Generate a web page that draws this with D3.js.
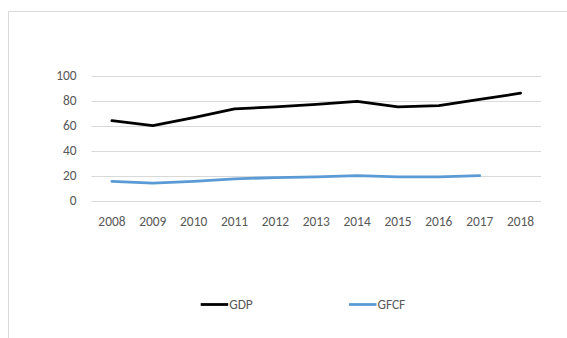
<!DOCTYPE html>
<html>
<head>
<meta charset="utf-8">
<script src="https://cdn.jsdelivr.net/npm/d3@7"></script>
<style>
  html, body { margin: 0; padding: 0; background: #fff; }
  svg { display: block; font-family: Carlito, Lato, "Open Sans", sans-serif; }
</style>
</head>
<body>
<svg id="chart" width="567" height="338"></svg>
<script>
// Data
const years = ["2008","2009","2010","2011","2012","2013","2014","2015","2016","2017","2018"];
const gdp  = [64, 60, 66.5, 73.5, 75, 77, 79.5, 75, 76, 81, 86];
const gfcf = [15.5, 14, 15.5, 17.5, 18.5, 19, 20, 19, 19, 20, null];
const yTicks = [0, 20, 40, 60, 80, 100];
const seriesNames = ["GDP", "GFCF"];
const seriesColors = ["#000000", "#5b9bd5"];

const svg = d3.select("#chart");
const fontSize = 13.4;
const textColor = "#595959";

// Chart area frame (extends beyond the visible window on the right and bottom)
svg.append("rect")
  .attr("x", 8.5).attr("y", 11.5)
  .attr("width", 600).attr("height", 400)
  .attr("fill", "none").attr("stroke", "#d9d9d9").attr("stroke-width", 1);

const plot = { left: 91.5, right: 541, top: 75.7, bottom: 200.7 };

const x = d3.scaleBand().domain(years).range([plot.left, plot.right]);
const y = d3.scaleLinear().domain([0, 100]).range([plot.bottom, plot.top]);
const cx = d => x(d) + x.bandwidth() / 2;

// Gridlines
svg.append("g")
  .selectAll("line").data(yTicks).join("line")
  .attr("x1", plot.left).attr("x2", plot.right)
  .attr("y1", d => Math.round(y(d)) + 0.5).attr("y2", d => Math.round(y(d)) + 0.5)
  .attr("stroke", "#d9d9d9").attr("stroke-width", 1);

// Y axis labels
const yAxis = d3.axisLeft(y).tickValues(yTicks).tickSize(0).tickPadding(0);
const gy = svg.append("g").attr("transform", `translate(${76.5},0)`).call(yAxis);
gy.select(".domain").remove();
gy.selectAll("text").attr("fill", textColor).attr("font-size", fontSize)
  .attr("font-family", "Carlito, Lato, 'Open Sans', sans-serif");

// X axis labels
const xAxis = d3.axisBottom(x).tickSize(0).tickPadding(0);
const gx = svg.append("g").attr("transform", `translate(0,${216})`).call(xAxis);
gx.select(".domain").remove();
gx.selectAll("text").attr("fill", textColor).attr("font-size", fontSize)
  .attr("font-family", "Carlito, Lato, 'Open Sans', sans-serif");

// Lines
const line = d3.line()
  .defined(d => d.v != null)
  .x(d => cx(d.year))
  .y(d => y(d.v));

[gdp, gfcf].forEach((vals, i) => {
  const pts = years.map((yr, j) => ({ year: yr, v: vals[j] }));
  svg.append("path")
    .datum(pts)
    .attr("d", line)
    .attr("fill", "none")
    .attr("stroke", seriesColors[i])
    .attr("stroke-width", 2.8)
    .attr("stroke-linejoin", "round")
    .attr("stroke-linecap", "round");
});

// Legend
const legendX = [200.7, 349];
const legendY = 304.5;
seriesNames.forEach((name, i) => {
  const g = svg.append("g");
  g.append("line")
    .attr("x1", legendX[i]).attr("x2", legendX[i] + 27.5)
    .attr("y1", legendY).attr("y2", legendY)
    .attr("stroke", seriesColors[i]).attr("stroke-width", 2.8);
  g.append("text")
    .attr("x", legendX[i] + 28.5).attr("y", legendY)
    .attr("dy", "0.35em")
    .attr("fill", textColor).attr("font-size", fontSize)
    .text(name);
});
</script>
</body>
</html>
